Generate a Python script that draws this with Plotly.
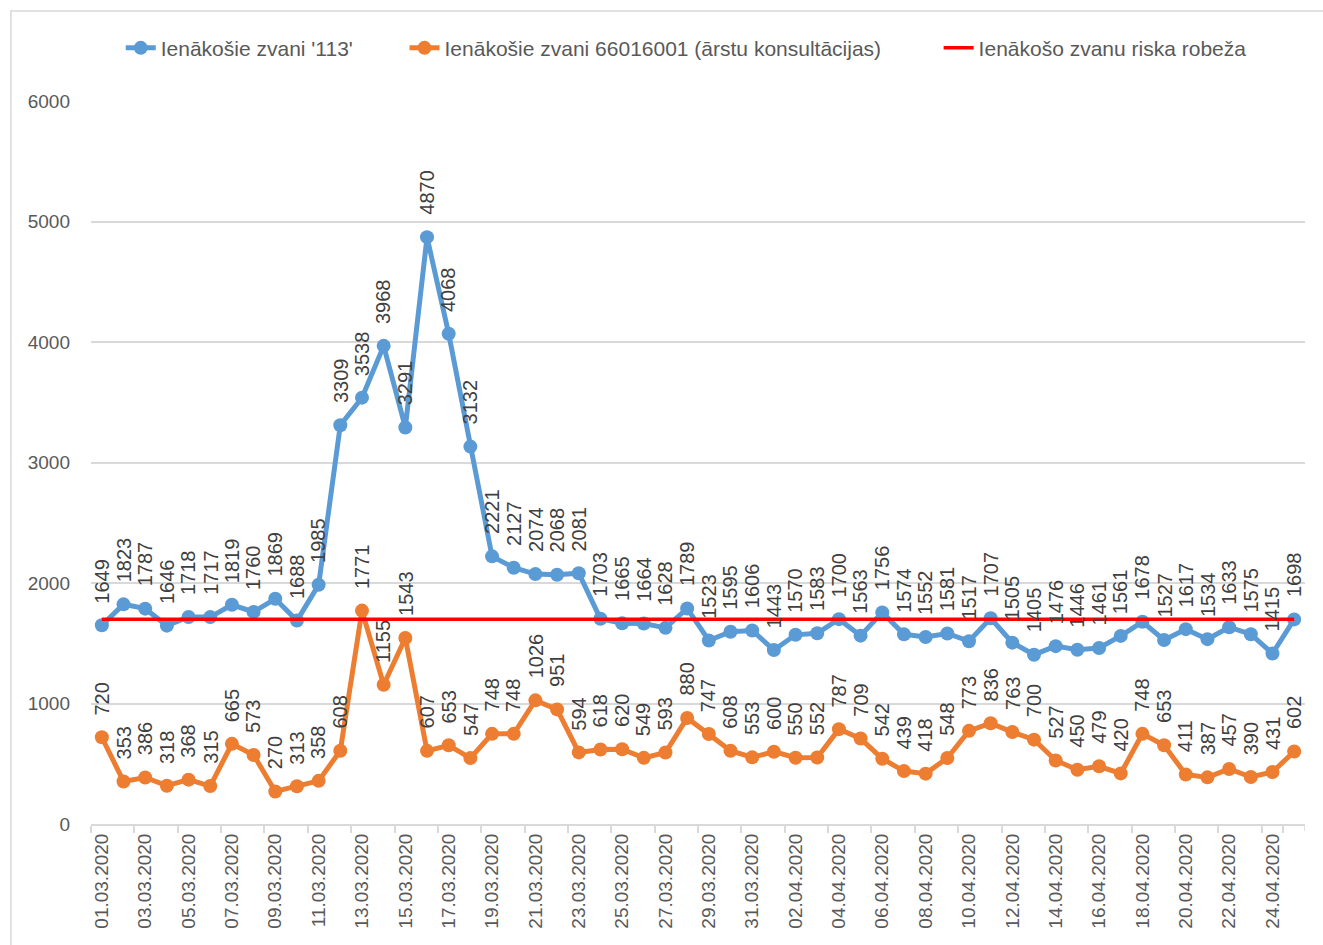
import pandas as pd
import plotly.graph_objects as go

# Dienas no 01.03.2020 līdz 25.04.2020
datumi = pd.date_range("2020-03-01", "2020-04-25").strftime("%d.%m.%Y").tolist()

zvani_113 = [1649, 1823, 1787, 1646, 1718, 1717, 1819, 1760, 1869, 1688, 1985, 3309, 3538, 3968,
             3291, 4870, 4068, 3132, 2221, 2127, 2074, 2068, 2081, 1703, 1665, 1664, 1628, 1789,
             1523, 1595, 1606, 1443, 1570, 1583, 1700, 1563, 1756, 1574, 1552, 1581, 1517, 1707,
             1505, 1405, 1476, 1446, 1461, 1561, 1678, 1527, 1617, 1534, 1633, 1575, 1415, 1698]

zvani_arsti = [720, 353, 386, 318, 368, 315, 665, 573, 270, 313, 358, 608, 1771, 1155,
               1543, 607, 653, 547, 748, 748, 1026, 951, 594, 618, 620, 549, 593, 880,
               747, 608, 553, 600, 550, 552, 787, 709, 542, 439, 418, 548, 773, 836,
               763, 700, 527, 450, 479, 420, 748, 653, 411, 387, 457, 390, 431, 602]

riska_robeza = 1700

nosaukumi = ["Ienākošie zvani '113'",
             "Ienākošie zvani 66016001 (ārstu konsultācijas)",
             "Ienākošo zvanu riska robeža"]

FONT = "Liberation Sans"
PELEKS = "#595959"
NBSP = "\u00a0"

fig = go.Figure()

fig.add_trace(go.Scatter(x=datumi, y=zvani_113, name=nosaukumi[0] + NBSP * 8, mode="lines+markers",
                         line=dict(color="#5B9BD5", width=5),
                         marker=dict(color="#5B9BD5", size=14)))
fig.add_trace(go.Scatter(x=datumi, y=zvani_arsti, name=nosaukumi[1] + NBSP * 9, mode="lines+markers",
                         line=dict(color="#ED7D31", width=5),
                         marker=dict(color="#ED7D31", size=14)))
fig.add_trace(go.Scatter(x=datumi, y=[riska_robeza] * len(datumi), name=nosaukumi[2], mode="lines",
                         line=dict(color="#FF0000", width=3.5)))

# datu etiķetes, pagrieztas vertikāli virs punktiem
anots = []
for serija in (zvani_113, zvani_arsti):
    for d, v in zip(datumi, serija):
        anots.append(dict(x=d, y=v, xref="x", yref="y", text=str(v), showarrow=False,
                          textangle=-90, xanchor="center", yanchor="bottom", yshift=20,
                          font=dict(family=FONT, size=20, color="#404040")))

fig.update_layout(
    width=1323, height=945,
    margin=dict(l=91, r=18, t=101, b=121),
    plot_bgcolor="white", paper_bgcolor="white",
    font=dict(family=FONT, size=19, color=PELEKS),
    annotations=anots,
    showlegend=True,
    legend=dict(orientation="h", x=0.0245, xanchor="left", y=1.073, yanchor="middle",
                font=dict(family=FONT, size=21, color=PELEKS)),
    shapes=[
        dict(type="rect", xref="paper", yref="paper",
             x0=-0.066, x1=1.1, y0=-0.3, y1=1.1245,
             line=dict(color="#D9D9D9", width=1.5), layer="below"),
        # pēdējā ass atzīme labajā malā
        dict(type="line", xref="x", yref="paper", ysizemode="pixel", yanchor=0,
             x0=len(datumi) - 0.5, x1=len(datumi) - 0.5, y0=0, y1=-7,
             line=dict(color="#D9D9D9", width=1.5)),
    ],
)

fig.update_xaxes(type="category", range=[-0.5, len(datumi) - 0.5], tickmode="array",
                 tickvals=datumi[::2], tickangle=-90,
                 tickson="boundaries", ticks="outside", ticklen=7, tickcolor="#D9D9D9",
                 tickwidth=1.5, showline=True, linecolor="#D9D9D9", linewidth=2,
                 showgrid=False, tickfont=dict(family=FONT, size=19, color=PELEKS))
fig.update_yaxes(range=[0, 6000], dtick=1000, showgrid=True, gridcolor="#D9D9D9", gridwidth=1.5,
                 zeroline=False, showline=False, ticks="", ticklabelstandoff=20,
                 tickfont=dict(family=FONT, size=19, color=PELEKS))

# noņem pārlūka noklusēto body atkāpi, lai attēls sāktos no stūra
fig.write_html("out.html", config={"displayModeBar": False},
               post_script="document.body.style.margin='0';")
